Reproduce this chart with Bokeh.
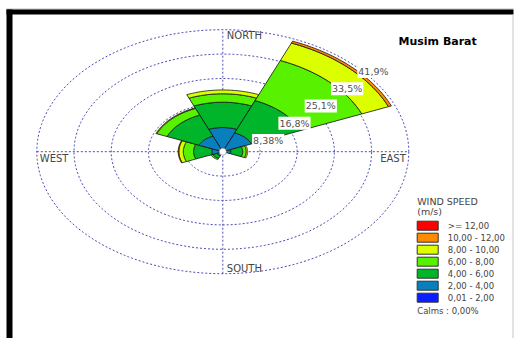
import numpy as np
from bokeh.plotting import figure
from bokeh.models import Range1d, BoxAnnotation
from bokeh.embed import file_html
from bokeh.resources import INLINE
from bokeh.core.properties import value

# ---------------------------------------------------------------- data
title = "Musim Barat"
directions = ["N", "NE", "E", "SE", "S", "SW", "W", "NW"]
bearings = [0, 45, 90, 135, 180, 225, 270, 315]          # degrees clockwise from north
sector_width = 45.0

speed_classes = ["0,01 - 2,00", "2,00 - 4,00", "4,00 - 6,00", "6,00 - 8,00",
                 "8,00 - 10,00", "10,00 - 12,00", ">= 12,00"]
class_colors = ["#0A1EFF", "#0A7FBE", "#00B52A", "#58F200",
                "#DCFF00", "#FF8C00", "#FF0000"]

# frequency (%) of each speed class per direction
freq_0_2 = [0.3, 0.3, 0.2, 0.1, 0.1, 0.2, 0.2, 0.3]
freq_2_4 = [8.0, 6.7, 1.6, 0.2, 0.5, 1.3, 2.3, 5.5]
freq_4_6 = [8.7, 12.0, 2.7, 0.0, 0.3, 1.0, 4.1, 7.8]
freq_6_8 = [2.9, 14.9, 0.8, 0.0, 0.0, 0.4, 2.3, 2.5]
freq_8_10 = [1.3, 6.5, 0.3, 0.0, 0.0, 0.0, 1.0, 0.2]
freq_10_12 = [0.0, 0.7, 0.0, 0.0, 0.0, 0.0, 0.15, 0.0]
freq_12_up = [0.0, 0.0, 0.0, 0.0, 0.0, 0.0, 0.0, 0.0]

ring_values = [8.38, 16.76, 25.14, 33.52, 41.9]
ring_labels = ["8,38%", "16,8%", "25,1%", "33,5%", "41,9%"]
compass_labels = ["NORTH", "EAST", "SOUTH", "WEST"]
legend_title = ["WIND SPEED", "(m/s)"]
calms_text = "Calms : 0,00%"

# ---------------------------------------------------------------- layout
W, H = 514, 338
CX, CY = 222.3, 151.2                  # rose centre on the canvas (px)
R_MAX = ring_values[-1]
SX = 186.0 / R_MAX                     # px per percent, horizontal
SY = 122.0 / R_MAX                     # px per percent, vertical


def px_x(px):
    return (px - CX) / SX


def px_y(py):
    return (CY - py) / SY


FONT = value("DejaVu Sans")
GRID_COLOR = "#4A4AB4"

p = figure(width=W, height=H, x_range=Range1d(px_x(0), px_x(W)),
           y_range=Range1d(px_y(H), px_y(0)), x_axis_type=None, y_axis_type=None,
           toolbar_location=None, output_backend="svg", min_border=0)
p.grid.visible = False
p.outline_line_color = None
p.background_fill_color = "white"
p.border_fill_color = "white"

# ---------------------------------------------------------------- frame
for l, r, t, b, c in [(6, 513, 8, 9, "#BDBDBD"), (6, 513, 9, 14, "black"),
                      (6, 12, 9, H, "black"), (512, 513, 14, H, "#C8C8C8")]:
    p.add_layout(BoxAnnotation(left=px_x(l), right=px_x(r), top=px_y(t), bottom=px_y(b),
                               fill_color=c, fill_alpha=1.0, line_alpha=0.0))

# ---------------------------------------------------------------- grid rings and axes
t = np.linspace(0, 2 * np.pi, 240)
for rv in ring_values:
    p.line(rv * np.cos(t), rv * np.sin(t), line_color=GRID_COLOR, line_width=1,
           line_dash="2 2")
p.line([0, 0], [-R_MAX, R_MAX], line_color=GRID_COLOR, line_width=1, line_dash="2 2")
p.line([-R_MAX, R_MAX], [0, 0], line_color=GRID_COLOR, line_width=1, line_dash="2 2")

# ---------------------------------------------------------------- wedges
freqs = np.array([freq_0_2, freq_2_4, freq_4_6, freq_6_8, freq_8_10, freq_10_12, freq_12_up])
cum = np.vstack([np.zeros(len(directions)), np.cumsum(freqs, axis=0)])

xs, ys, colors = [], [], []
for i, b in enumerate(bearings):
    th = np.radians(np.linspace(b - sector_width / 2, b + sector_width / 2, 48))
    for k in range(len(speed_classes)):
        r0, r1 = cum[k, i], cum[k + 1, i]
        if r1 - r0 <= 0:
            continue
        ox, oy = r1 * np.sin(th), r1 * np.cos(th)
        ix, iy = r0 * np.sin(th[::-1]), r0 * np.cos(th[::-1])
        xs.append(np.concatenate([ox, ix]).tolist())
        ys.append(np.concatenate([oy, iy]).tolist())
        colors.append(class_colors[k])
p.patches(xs, ys, fill_color=colors, line_color="#111111", line_width=0.8)

# calm circle
p.scatter([0], [0], size=7, fill_color="white", line_color="#888888", line_width=0.6)

# ---------------------------------------------------------------- ring labels
c45 = np.cos(np.radians(45))
p.text([rv * c45 for rv in ring_values], [rv * c45 for rv in ring_values], text=ring_labels,
       x_offset=3, y_offset=6, text_font=FONT, text_font_size="9.5px",
       text_color="#505050", text_align="left", text_baseline="middle",
       background_fill_color="white", padding=1)

# ---------------------------------------------------------------- compass labels
p.text([0, R_MAX, 0, -R_MAX], [R_MAX, 0, -R_MAX, 0], text=compass_labels,
       x_offset=[4, -3, 4, 3], y_offset=[6, 7, -5, 7],
       text_align=["left", "right", "left", "left"], text_baseline="middle",
       text_font=FONT, text_font_size="10px", text_color="#444444")

# ---------------------------------------------------------------- title
p.text([px_x(398)], [px_y(40.5)], text=[title], text_font=FONT, text_font_size="11px",
       text_font_style="bold", text_color="black", text_align="left",
       text_baseline="middle")

# ---------------------------------------------------------------- legend
LEG_X, LEG_TOP, LEG_STEP, BOX_W, BOX_H = 416.7, 220.7, 12.0, 21.0, 9.0
p.text([px_x(LEG_X)] * 2, [px_y(201), px_y(210.7)], text=legend_title, text_font=FONT,
       text_font_size="9.5px", text_color="#444444", text_align="left",
       text_baseline="middle")
order = list(range(len(speed_classes)))[::-1]
tops = [LEG_TOP + j * LEG_STEP for j in range(len(order))]
p.quad(left=[px_x(LEG_X)] * len(order), right=[px_x(LEG_X + BOX_W)] * len(order),
       top=[px_y(tp) for tp in tops], bottom=[px_y(tp + BOX_H) for tp in tops],
       fill_color=[class_colors[k] for k in order], line_color="#333333", line_width=1)
p.text([px_x(LEG_X + 30.6)] * len(order), [px_y(tp + BOX_H / 2) for tp in tops],
       text=[speed_classes[k] for k in order], text_font=FONT, text_font_size="8.5px",
       text_color="#444444", text_align="left", text_baseline="middle")
p.text([px_x(LEG_X)], [px_y(310.3)], text=[calms_text], text_font=FONT,
       text_font_size="8.5px", text_color="#444444", text_align="left",
       text_baseline="middle")

open("out.html", "w").write(file_html(p, INLINE))
